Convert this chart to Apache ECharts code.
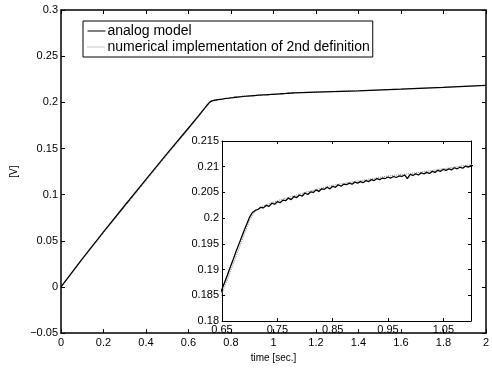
<!DOCTYPE html>
<html>
<head>
<meta charset="utf-8">
<script src="https://cdn.jsdelivr.net/npm/echarts@6/dist/echarts.min.js"></script>
<style>html,body{margin:0;padding:0;background:#fff}#c{width:492px;height:368px}</style>
</head>
<body>
<div id="c"></div>
<script>
const analogTime = [0,0.1,0.2,0.3,0.4,0.5,0.6,
0.650,0.655,0.660,0.665,0.670,0.675,0.680,0.685,0.690,0.695,0.700,0.705,0.710,0.715,0.720,0.725,0.730,0.735,0.740,0.745,
0.750,0.755,0.760,0.765,0.770,0.775,0.780,0.785,0.790,0.795,0.800,0.805,0.810,0.815,0.820,0.825,0.830,0.835,0.840,0.845,
0.850,0.855,0.860,0.865,0.870,0.875,0.880,0.885,0.890,0.895,0.900,0.905,0.910,0.915,0.920,0.925,0.930,0.935,0.940,0.945,
0.950,0.955,0.960,0.965,0.970,0.975,0.980,0.985,0.990,0.995,1.000,1.005,1.010,1.015,1.020,1.025,1.030,1.035,1.040,1.045,
1.050,1.055,1.060,1.065,1.070,1.075,1.080,1.085,1.090,1.095,1.100,
1.2,1.4,1.6,1.8,2.0];
const analogValues = [0,0.0305,0.0597,0.0882,0.1165,0.1446,0.1722,
0.1862,0.1876,0.1890,0.1905,0.1919,0.1934,0.1948,0.1962,0.1976,0.1989,0.2002,0.2011,0.2015,0.2017,0.2021,0.2020,0.2025,0.2023,0.2029,0.2027,
0.2032,0.2030,0.2035,0.2034,0.2039,0.2036,0.2042,0.2040,0.2045,0.2043,0.2049,0.2046,0.2051,0.2050,0.2055,0.2052,0.2057,0.2056,0.2060,0.2057,
0.2062,0.2060,0.2065,0.2062,0.2066,0.2065,0.2068,0.2066,0.2070,0.2068,0.2071,0.2069,0.2073,0.2071,0.2075,0.2073,0.2077,0.2075,0.2078,0.2077,
0.2080,0.2078,0.2081,0.2079,0.2082,0.2081,0.2084,0.2077,0.2085,0.2083,0.2086,0.2084,0.2088,0.2086,0.2089,0.2087,0.2091,0.2089,0.2093,0.2091,
0.2095,0.2093,0.2096,0.2094,0.2098,0.2096,0.2099,0.2097,0.2101,0.2099,0.2102,
0.2110,0.2125,0.2142,0.2162,0.2184];
const numericalTime = [0,0.1,0.2,0.3,0.4,0.5,0.6,0.65,0.7,0.71,0.72,0.75,0.8,0.85,0.9,0.95,1.0,1.05,1.1,1.2,1.4,1.6,1.8,2.0];
const numericalValues = [0,0.0295,0.0585,0.0868,0.1150,0.1430,0.1708,0.1853,0.1996,0.2013,0.2022,0.2034,0.2050,0.2064,0.2073,0.2082,0.2088,0.2096,0.2104,0.2112,0.2127,0.2144,0.2164,0.2186];
const mainXTicks = {min:0, max:2, interval:0.2};
const mainYTicks = {min:-0.05, max:0.3, interval:0.05};
const insetXTicks = [0.65,0.75,0.85,0.95,1.05];
const insetYTicks = [0.18,0.185,0.19,0.195,0.2,0.205,0.21,0.215];
const insetXRange = [0.65,1.1];
const insetYRange = [0.18,0.215];

const FONT = 'Liberation Sans, Arial, Helvetica, sans-serif';
const pair = (t,v) => t.map((x,i)=>[x,v[i]]);
const lineAx = (w) => ({show:true, onZero:false, lineStyle:{color:'#000', width:w}});
const tickIn = (len) => ({show:true, inside:true, length:len, lineStyle:{color:'#000', width:1}});
const lbl = (m) => ({color:'#000', fontSize:11, fontFamily:FONT, margin:m,
  formatter: v => String(+(+v).toFixed(4)).replace('-', '\u2212')});

const chart = echarts.init(document.getElementById('c'));
chart.setOption({
  animation:false,
  backgroundColor:'#fff',
  grid:[
    {left:61, top:10, right:2, bottom:29, show:true, backgroundColor:'#fff', borderWidth:0},
    {left:222, top:141, width:249, height:180, show:true, backgroundColor:'#fff', borderWidth:0, z:5}
  ],
  legend:{
    left:83, top:21, orient:'vertical', itemGap:2, itemWidth:18, itemHeight:10,
    padding:[3,3,3,4], borderColor:'#000', borderWidth:1, backgroundColor:'#fff',
    itemStyle:{opacity:0},
    lineStyle:{width:1},
    data:['analog model','numerical implementation of 2nd definition'],
    textStyle:{fontSize:14, fontFamily:FONT, color:'#000', padding:[0,0,0,-3]},
    z:20
  },
  xAxis:[
    {type:'value', gridIndex:0, position:'bottom', ...mainXTicks, axisLine:lineAx(1.5), axisTick:tickIn(4), axisLabel:lbl(4), splitLine:{show:false},
     name:'time [sec.]', nameLocation:'middle', nameGap:15, nameTextStyle:{color:'#000', fontSize:10, fontFamily:FONT}},
    {type:'value', gridIndex:0, position:'top', ...mainXTicks, axisLine:lineAx(1.5), axisTick:tickIn(4), axisLabel:{show:false}, splitLine:{show:false}},
    {type:'value', gridIndex:1, position:'bottom', min:insetXRange[0], max:insetXRange[1], axisLine:lineAx(1), axisTick:{...tickIn(3), customValues:insetXTicks}, axisLabel:{...lbl(3), customValues:insetXTicks}, splitLine:{show:false}, z:6},
    {type:'value', gridIndex:1, position:'top', min:insetXRange[0], max:insetXRange[1], axisLine:lineAx(1), axisTick:{...tickIn(3), customValues:insetXTicks}, axisLabel:{show:false}, splitLine:{show:false}, z:6}
  ],
  yAxis:[
    {type:'value', gridIndex:0, position:'left', ...mainYTicks, axisLine:lineAx(1.5), axisTick:tickIn(4), axisLabel:lbl(3), splitLine:{show:false},
     name:'[V]', nameLocation:'middle', nameGap:31, nameTextStyle:{color:'#000', fontSize:10, fontFamily:FONT}},
    {type:'value', gridIndex:0, position:'right', ...mainYTicks, axisLine:lineAx(1.5), axisTick:tickIn(4), axisLabel:{show:false}, splitLine:{show:false}},
    {type:'value', gridIndex:1, position:'left', min:insetYRange[0], max:insetYRange[1], axisLine:lineAx(1), axisTick:{...tickIn(3), customValues:insetYTicks}, axisLabel:{...lbl(3), customValues:insetYTicks}, splitLine:{show:false}, z:6},
    {type:'value', gridIndex:1, position:'right', min:insetYRange[0], max:insetYRange[1], axisLine:lineAx(1), axisTick:{...tickIn(3), customValues:insetYTicks}, axisLabel:{show:false}, splitLine:{show:false}, z:6}
  ],
  series:[
    {name:'numerical implementation of 2nd definition', type:'line', xAxisIndex:0, yAxisIndex:0, data:pair(numericalTime, numericalValues), symbol:'none', color:'#8a8a8a', lineStyle:{color:'#8a8a8a', width:1, type:'dotted'}, z:2},
    {name:'analog model', type:'line', xAxisIndex:0, yAxisIndex:0, data:pair(analogTime, analogValues), symbol:'none', color:'#000', lineStyle:{color:'#000', width:1.3}, z:3},
    {name:'numerical implementation of 2nd definition', type:'line', xAxisIndex:2, yAxisIndex:2, data:pair(numericalTime, numericalValues), symbol:'none', color:'#8a8a8a', lineStyle:{color:'#8a8a8a', width:1, type:'dotted'}, clip:true, z:7},
    {name:'analog model', type:'line', xAxisIndex:2, yAxisIndex:2, data:pair(analogTime, analogValues), symbol:'none', color:'#000', lineStyle:{color:'#000', width:1.3}, clip:true, z:8}
  ]
});
</script>
</body>
</html>
